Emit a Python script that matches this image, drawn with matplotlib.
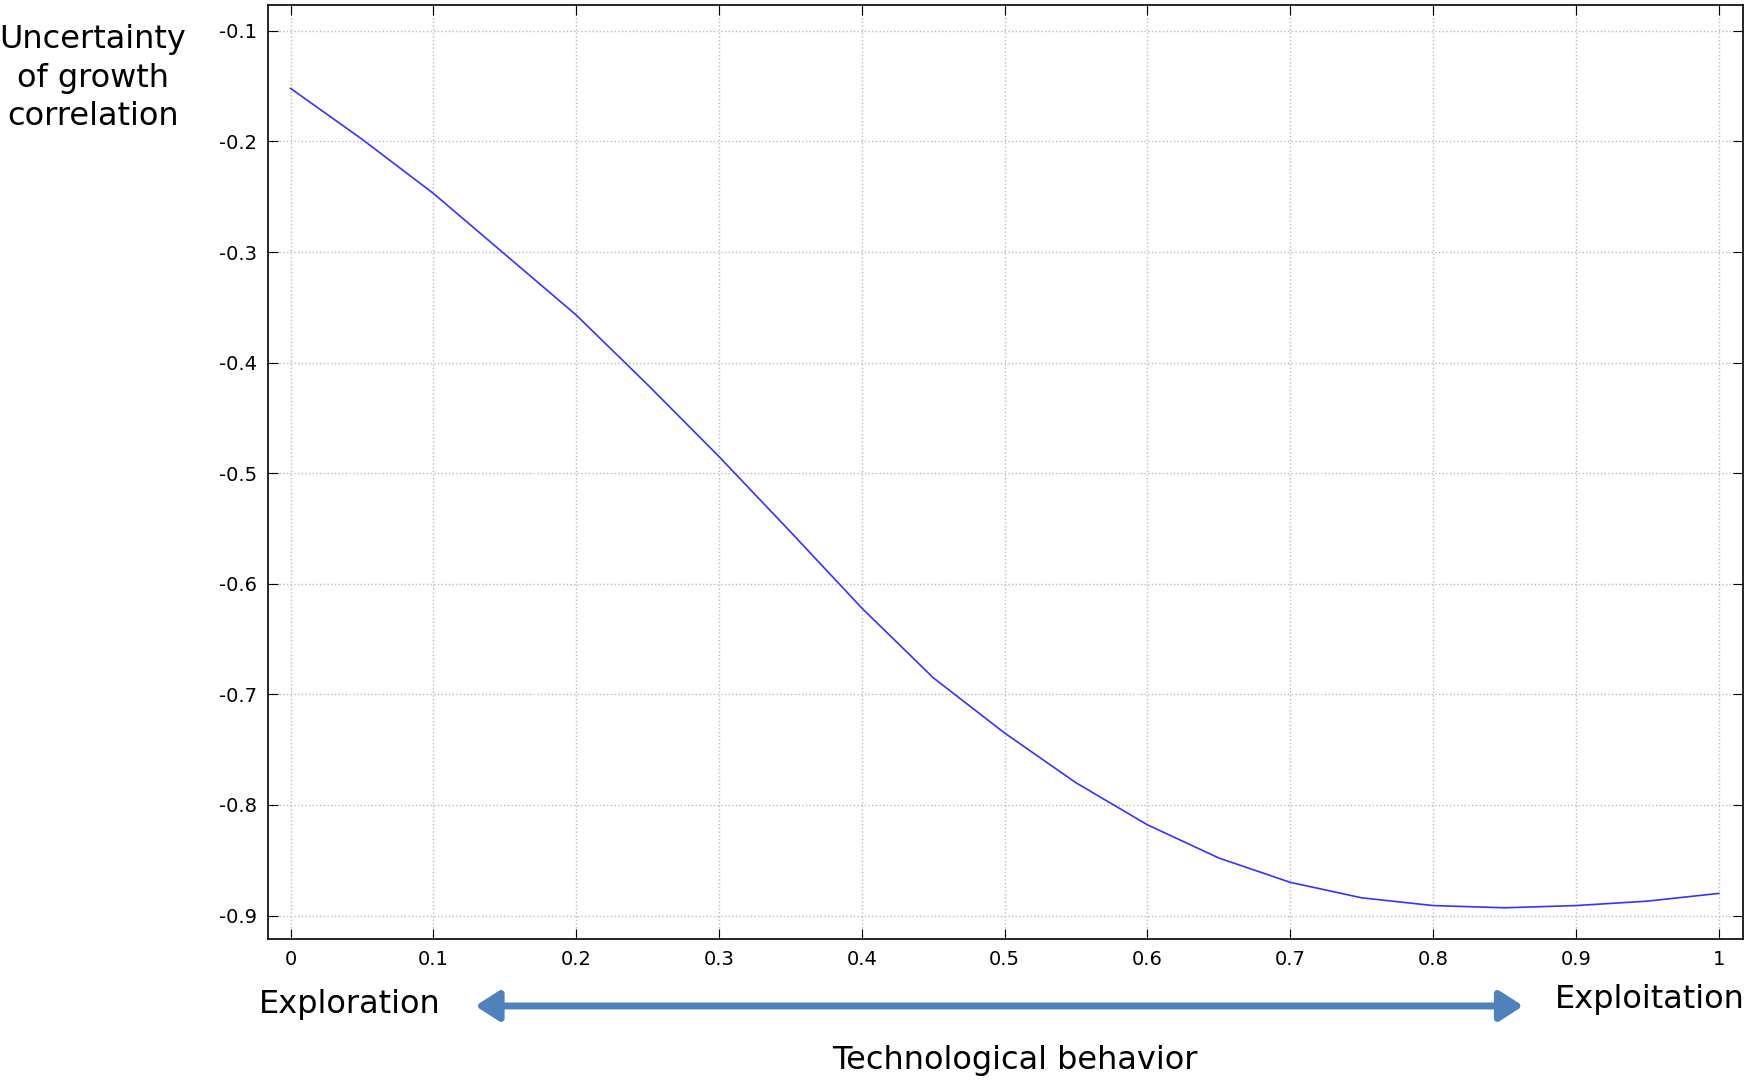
import matplotlib
matplotlib.use("Agg")
import matplotlib.pyplot as plt
import numpy as np

x = [0, 0.05, 0.1, 0.15, 0.2, 0.25, 0.3, 0.35, 0.4, 0.45, 0.5, 0.55, 0.6, 0.65, 0.7, 0.75, 0.8, 0.85, 0.9, 0.95, 1.0]
y = [-0.152, -0.198, -0.247, -0.302, -0.357, -0.420, -0.485, -0.553, -0.622, -0.685, -0.735,
     -0.780, -0.818, -0.848, -0.870, -0.884, -0.891, -0.893, -0.891, -0.887, -0.880]
xticks = [0, 0.1, 0.2, 0.3, 0.4, 0.5, 0.6, 0.7, 0.8, 0.9, 1]
xticklabels = ["0", "0.1", "0.2", "0.3", "0.4", "0.5", "0.6", "0.7", "0.8", "0.9", "1"]
yticks = [-0.1, -0.2, -0.3, -0.4, -0.5, -0.6, -0.7, -0.8, -0.9]
yticklabels = ["-0.1", "-0.2", "-0.3", "-0.4", "-0.5", "-0.6", "-0.7", "-0.8", "-0.9"]

fig = plt.figure(figsize=(17.5, 10.84), dpi=100)
ax = fig.add_axes([0.153, 0.134, 0.843, 0.861])
ax.plot(x, y, color="#3333ff", lw=1.2)
ax.set_xlim(-0.016, 1.017)
ax.set_ylim(-0.921, -0.077)
ax.set_xticks(xticks)
ax.set_xticklabels(xticklabels)
ax.set_yticks(yticks)
ax.set_yticklabels(yticklabels)
ax.tick_params(direction="in", top=True, right=True, labelsize=14, length=7, pad=8)
ax.grid(True, ls=":", color="#bbbbbb", lw=1)
for s in ax.spines.values():
    s.set_linewidth(1.2)

fig.text(0.053, 0.928, "Uncertainty\nof growth\ncorrelation", ha="center", va="center",
         fontsize=23, linespacing=1.3)
fig.text(0.2, 0.073, "Exploration", ha="center", va="center", fontsize=23)
fig.text(0.943, 0.078, "Exploitation", ha="center", va="center", fontsize=23)
fig.text(0.58, 0.022, "Technological behavior", ha="center", va="center", fontsize=23)
fig.patches.append(matplotlib.patches.FancyArrowPatch(
    (0.27, 0.072), (0.872, 0.072), transform=fig.transFigure,
    arrowstyle="<|-|>,head_length=14,head_width=9", color="#4f81bd", lw=5))
fig.savefig("out.png", dpi=100)
